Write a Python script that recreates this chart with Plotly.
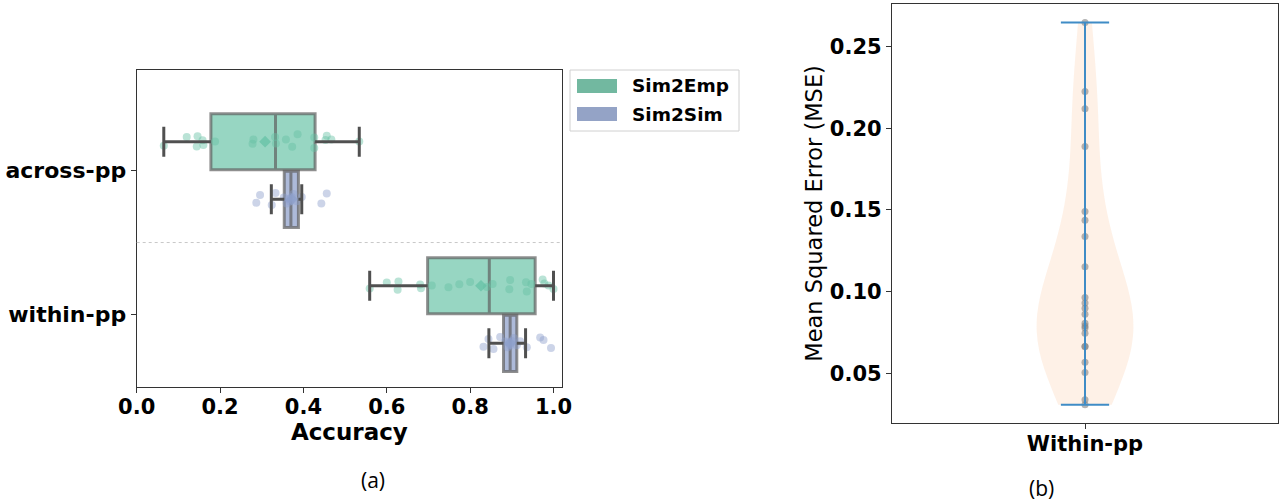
import numpy as np
import plotly.graph_objects as go

W, H = 1284, 501

# ---------------- data ----------------
categories = ["across-pp", "within-pp"]
groups = ["Sim2Emp", "Sim2Sim"]

emp_q1 = [0.178, 0.698]
emp_med = [0.333, 0.846]
emp_q3 = [0.428, 0.956]
emp_lo = [0.065, 0.559]
emp_hi = [0.534, 1.000]
emp_mean = [0.308, 0.826]

sim_q1 = [0.354, 0.880]
sim_med = [0.370, 0.896]
sim_q3 = [0.388, 0.912]
sim_lo = [0.323, 0.845]
sim_hi = [0.396, 0.933]
sim_mean = [0.372, 0.896]

emp_across = [0.065, 0.120, 0.144, 0.146, 0.158, 0.160, 0.188, 0.278, 0.280, 0.332,
              0.334, 0.358, 0.373, 0.386, 0.426, 0.426, 0.453, 0.456, 0.467, 0.534]
sim_across = [0.287, 0.296, 0.324, 0.333, 0.353, 0.360, 0.365, 0.368, 0.372, 0.376,
              0.384, 0.396, 0.443, 0.456]
emp_within = [0.559, 0.600, 0.626, 0.628, 0.680, 0.682, 0.708, 0.748, 0.774, 0.800,
              0.840, 0.854, 0.894, 0.896, 0.934, 0.936, 0.947, 0.974, 0.978, 0.988, 1.000]
sim_within = [0.832, 0.844, 0.856, 0.872, 0.884, 0.890, 0.892, 0.896, 0.900, 0.905,
              0.912, 0.920, 0.936, 0.968, 0.976, 0.994]

x_ticks_a = [0.0, 0.2, 0.4, 0.6, 0.8, 1.0]

mse_label = "Within-pp"
mse = [0.2647, 0.2225, 0.2119, 0.1888, 0.1490, 0.1437, 0.1337, 0.1153, 0.0964, 0.0930,
       0.0899, 0.0862, 0.0807, 0.0790, 0.0777, 0.0746, 0.0664, 0.0664, 0.0568, 0.0505,
       0.0338, 0.0307]
y_ticks_b = [0.05, 0.10, 0.15, 0.20, 0.25]

# ---------------- styles ----------------
EMP = "#66c2a5"
SIM = "#8da0cb"
EMP_FILL = "rgba(102,194,165,0.68)"
SIM_FILL = "rgba(141,160,203,0.72)"
EMP_PT = "rgba(102,194,165,0.45)"
SIM_PT = "rgba(141,160,203,0.45)"
BOX_LINE = "rgba(95,95,95,0.7)"
WHISK = "#505050"
FONT = "DejaVu Sans"

def px(x):
    return x / W

def py(y):
    return 1 - y / H

fig = go.Figure()

offsets = [-0.2, 0.2]
box_w = 0.39
cap = 0.104
stats = [
    (emp_q1, emp_med, emp_q3, emp_lo, emp_hi, emp_mean, EMP_FILL, EMP_PT, EMP, [emp_across, emp_within]),
    (sim_q1, sim_med, sim_q3, sim_lo, sim_hi, sim_mean, SIM_FILL, SIM_PT, SIM, [sim_across, sim_within]),
]

# boxes
for gi, (q1, med, q3, lo, hi, mn, fill, ptc, base, pts) in enumerate(stats):
    for ci in range(len(categories)):
        c = ci + offsets[gi]
        fig.add_trace(go.Box(
            orientation="h", y=[c], q1=[q1[ci]], median=[med[ci]], q3=[q3[ci]],
            lowerfence=[q1[ci]], upperfence=[q3[ci]], width=box_w,
            fillcolor=fill, line=dict(color=BOX_LINE, width=3), whiskerwidth=0,
            boxpoints=False, showlegend=False, xaxis="x", yaxis="y", hoverinfo="skip"))

# whiskers
for gi, (q1, med, q3, lo, hi, mn, fill, ptc, base, pts) in enumerate(stats):
    for ci in range(len(categories)):
        c = ci + offsets[gi]
        xs = [lo[ci], q1[ci], None, q3[ci], hi[ci], None, lo[ci], lo[ci], None, hi[ci], hi[ci]]
        ys = [c, c, None, c, c, None, c - cap, c + cap, None, c - cap, c + cap]
        fig.add_trace(go.Scatter(x=xs, y=ys, mode="lines",
                                 line=dict(color=WHISK, width=3),
                                 showlegend=False, hoverinfo="skip", xaxis="x", yaxis="y"))

# points (strip) via invisible box with jittered points
for gi, (q1, med, q3, lo, hi, mn, fill, ptc, base, pts) in enumerate(stats):
    for ci in range(len(categories)):
        c = ci + offsets[gi]
        fig.add_trace(go.Box(
            orientation="h", x=pts[ci], y0=c, width=box_w,
            boxpoints="all", jitter=0.28, pointpos=0,
            fillcolor="rgba(0,0,0,0)", line=dict(color="rgba(0,0,0,0)", width=0),
            marker=dict(color=ptc, size=8, line=dict(width=0)),
            showlegend=False, xaxis="x", yaxis="y"))

# means
for gi, (q1, med, q3, lo, hi, mn, fill, ptc, base, pts) in enumerate(stats):
    fig.add_trace(go.Scatter(
        x=mn, y=[ci + offsets[gi] for ci in range(len(categories))], mode="markers",
        marker=dict(symbol="diamond", size=9, color=base, opacity=0.75),
        showlegend=False, xaxis="x", yaxis="y"))

# ---------------- violin panel ----------------
arr = np.array(mse)
bw = float(arr.std(ddof=1) * len(arr) ** (-1 / 5))
fig.add_trace(go.Violin(
    y=mse, x0=1, name=mse_label, width=0.5, spanmode="hard", bandwidth=bw,
    scalemode="width", fillcolor="rgba(254,228,208,0.5)",
    line=dict(color="rgba(0,0,0,0)", width=0),
    points="all", pointpos=0, jitter=0,
    marker=dict(color="rgba(130,130,130,0.6)", size=7),
    box_visible=False, meanline_visible=False, showlegend=False,
    xaxis="x2", yaxis="y2"))

mn_b, mx_b = min(mse), max(mse)
fig.add_trace(go.Scatter(
    x=[1, 1, None, 0.875, 1.125, None, 0.875, 1.125],
    y=[mn_b, mx_b, None, mn_b, mn_b, None, mx_b, mx_b],
    mode="lines", line=dict(color="#3f8cc6", width=2),
    showlegend=False, hoverinfo="skip", xaxis="x2", yaxis="y2"))

tickfont = dict(family=FONT, size=21, color="black", weight="bold")
axis_common = dict(showline=True, linecolor="#333333", linewidth=1.3, mirror=True,
                   ticks="outside", ticklen=5, tickcolor="#333333", showgrid=False,
                   zeroline=False, automargin=False)

fig.update_layout(
    width=W, height=H, margin=dict(l=0, r=0, t=0, b=0, autoexpand=False),
    paper_bgcolor="white", plot_bgcolor="white",
    xaxis=dict(domain=[px(136.7), px(562)], range=[0, 1.0204],
               tickvals=x_ticks_a, ticktext=[f"{v:.1f}" for v in x_ticks_a],
               tickfont=tickfont, ticklabelstandoff=-4,
               title=dict(text="Accuracy", font=dict(family=FONT, size=23, color="black", weight="bold"),
                          standoff=2),
               anchor="y", **axis_common),
    yaxis=dict(domain=[py(386.7), py(70)], range=[1.501, -0.698],
               tickvals=list(range(len(categories))), ticktext=categories,
               tickfont=dict(family=FONT, size=22, color="black", weight="bold"),
               anchor="x", **axis_common),
    xaxis2=dict(domain=[px(892), px(1278)], range=[0, 2],
                tickvals=[1], ticktext=[mse_label], tickfont=tickfont, ticklabelstandoff=-4,
                anchor="y2", **axis_common),
    yaxis2=dict(domain=[py(423.3), py(3.5)], range=[0.0194, 0.2764],
                tickvals=y_ticks_b, ticktext=[f"{v:.2f}" for v in y_ticks_b],
                tickfont=tickfont,
                title=dict(text="Mean Squared Error (MSE)",
                           font=dict(family=FONT, size=22.5, color="black"), standoff=0),
                anchor="x2", **axis_common),
    showlegend=False,
)

# separator between categories
fig.add_shape(type="line", xref="x domain", yref="y", x0=0, x1=1, y0=0.5, y1=0.5,
              line=dict(color="#c8c8c8", width=1, dash="dot"))

# manual legend
fig.add_shape(type="rect", xref="paper", yref="paper",
              x0=px(570), x1=px(739), y0=py(131), y1=py(70),
              line=dict(color="#d0d0d0", width=1), fillcolor="white")
leg_cols = ["#72b8a0", "#94a3c6"]
leg_y = [86, 114]
for name, col, yy in zip(groups, leg_cols, leg_y):
    fig.add_shape(type="rect", xref="paper", yref="paper",
                  x0=px(577), x1=px(617), y0=py(yy + 7), y1=py(yy - 7),
                  line=dict(width=0), fillcolor=col)
    fig.add_annotation(x=px(630), y=py(yy), xref="paper", yref="paper",
                       text=name, showarrow=False, xanchor="left", yanchor="middle",
                       font=dict(family=FONT, size=18.5, color="black", weight="bold"))

# captions
fig.add_annotation(x=px(373), y=py(480), xref="paper", yref="paper", text="(a)",
                   showarrow=False, xanchor="center", yanchor="middle",
                   font=dict(family="Open Sans", size=21, color="black"))
fig.add_annotation(x=px(1041), y=py(488), xref="paper", yref="paper", text="(b)",
                   showarrow=False, xanchor="center", yanchor="middle",
                   font=dict(family="Open Sans", size=21, color="black"))

fig.write_html("out.html")
